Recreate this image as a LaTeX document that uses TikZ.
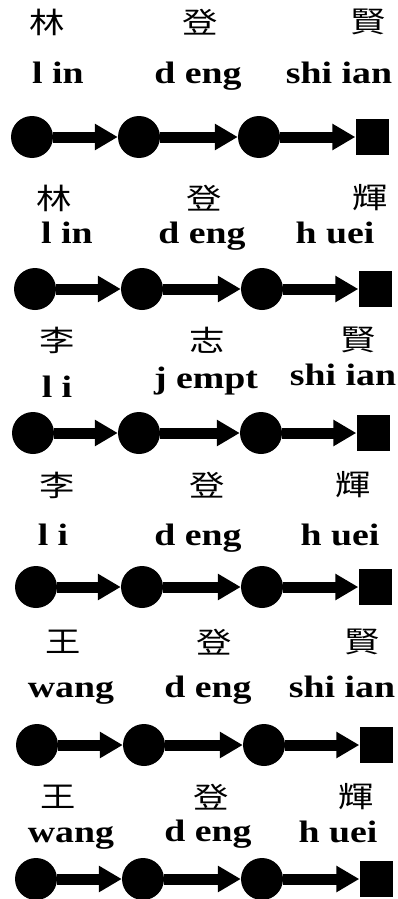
\documentclass[tikz,border=0pt]{standalone}
\usepackage{fontspec}
\setmainfont{Liberation Serif}
\newfontfamily\hanzi{Noto Sans CJK TC}
\usetikzlibrary{arrows.meta}
\newcommand{\wide}[1]{\scalebox{1.22}[1]{#1}}

\begin{document}
\begin{tikzpicture}[x=1pt, y=-1pt,
  dot/.style={circle, fill, inner sep=0pt, minimum size=42pt},
  sq/.style={rectangle, fill, inner sep=0pt, minimum width=33pt, minimum height=36pt},
  link/.style={line width=11pt, -{Triangle[length=23pt, width=25pt]}},
  zi/.style={font=\hanzi\fontsize{29}{29}\selectfont},
  py/.style={font=\bfseries\fontsize{31}{31}\selectfont, anchor=base, inner sep=0pt}]
\useasboundingbox (0,0) rectangle (397,899);
% row 1
\node[zi] (h11) at (47,22) {\wide{林}};
\node[zi] (h12) at (200,22) {\wide{登}};
\node[zi] (h13) at (368,22) {\wide{賢}};
\node[py] (p11) at (58,83) {\wide{l in}};
\node[py] (p12) at (198,83) {\wide{d eng}};
\node[py] (p13) at (339,83) {\wide{shi ian}};
\node[dot] (a1) at (32,137) {};
\node[dot] (b1) at (139,137) {};
\node[dot] (c1) at (259,137) {};
\node[sq] (s1) at (372,137) {};
\draw[link] (a1) -- (b1);
\draw[link] (b1) -- (c1);
\draw[link] (c1) -- (s1);
% row 2
\node[zi] (h21) at (54,198) {\wide{林}};
\node[zi] (h22) at (204,198) {\wide{登}};
\node[zi] (h23) at (370,198) {\wide{輝}};
\node[py] (p21) at (67,243) {\wide{l in}};
\node[py] (p22) at (202,243) {\wide{d eng}};
\node[py] (p23) at (335,243) {\wide{h uei}};
\node[dot] (a2) at (35,289) {};
\node[dot] (b2) at (142,289) {};
\node[dot] (c2) at (262,289) {};
\node[sq] (s2) at (375,289) {};
\draw[link] (a2) -- (b2);
\draw[link] (b2) -- (c2);
\draw[link] (c2) -- (s2);
% row 3
\node[zi] (h31) at (57,340) {\wide{李}};
\node[zi] (h32) at (207,340) {\wide{志}};
\node[zi] (h33) at (358,340) {\wide{賢}};
\node[py] (p31) at (57,397) {\wide{l i}};
\node[py] (p32) at (206,388) {\wide{j empt}};
\node[py] (p33) at (343,385) {\wide{shi ian}};
\node[dot] (a3) at (33,433) {};
\node[dot] (b3) at (139,433) {};
\node[dot] (c3) at (261,433) {};
\node[sq] (s3) at (373,433) {};
\draw[link] (a3) -- (b3);
\draw[link] (b3) -- (c3);
\draw[link] (c3) -- (s3);
% row 4
\node[zi] (h41) at (57,485) {\wide{李}};
\node[zi] (h42) at (207,485) {\wide{登}};
\node[zi] (h43) at (353,485) {\wide{輝}};
\node[py] (p41) at (53,545) {\wide{l i}};
\node[py] (p42) at (198,545) {\wide{d eng}};
\node[py] (p43) at (340,545) {\wide{h uei}};
\node[dot] (a4) at (36,587) {};
\node[dot] (b4) at (142,587) {};
\node[dot] (c4) at (262,587) {};
\node[sq] (s4) at (375,587) {};
\draw[link] (a4) -- (b4);
\draw[link] (b4) -- (c4);
\draw[link] (c4) -- (s4);
% row 5
\node[zi] (h51) at (63,642) {\wide{王}};
\node[zi] (h52) at (214,642) {\wide{登}};
\node[zi] (h53) at (362,642) {\wide{賢}};
\node[py] (p51) at (71,697) {\wide{wang}};
\node[py] (p52) at (208,697) {\wide{d eng}};
\node[py] (p53) at (342,697) {\wide{shi ian}};
\node[dot] (a5) at (37,745) {};
\node[dot] (b5) at (144,745) {};
\node[dot] (c5) at (264,745) {};
\node[sq] (s5) at (376,745) {};
\draw[link] (a5) -- (b5);
\draw[link] (b5) -- (c5);
\draw[link] (c5) -- (s5);
% row 6
\node[zi] (h61) at (58,797) {\wide{王}};
\node[zi] (h62) at (211,797) {\wide{登}};
\node[zi] (h63) at (356,797) {\wide{輝}};
\node[py] (p61) at (71,842) {\wide{wang}};
\node[py] (p62) at (208,841) {\wide{d eng}};
\node[py] (p63) at (338,842) {\wide{h uei}};
\node[dot] (a6) at (36,879) {};
\node[dot] (b6) at (143,879) {};
\node[dot] (c6) at (262,879) {};
\node[sq] (s6) at (376,879) {};
\draw[link] (a6) -- (b6);
\draw[link] (b6) -- (c6);
\draw[link] (c6) -- (s6);
\end{tikzpicture}
\end{document}
